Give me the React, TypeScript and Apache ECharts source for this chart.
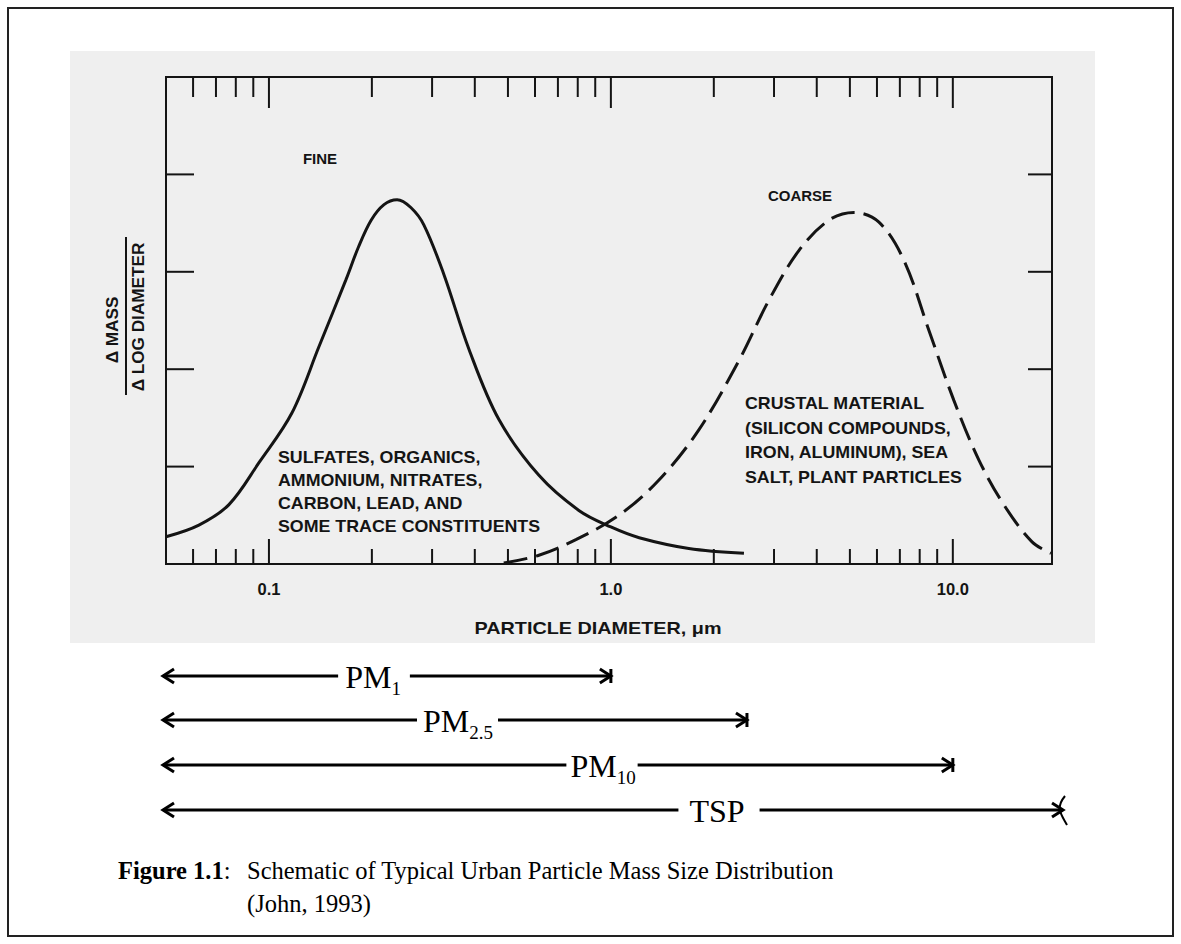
import React, { useEffect, useRef } from 'react';
import * as echarts from 'echarts';

// ---------- data ----------
const FINE_DIAMETER = [0.05, 0.0624, 0.0764, 0.0935, 0.1167, 0.14, 0.168, 0.183, 0.199, 0.217, 0.237, 0.26, 0.284, 0.325, 0.385, 0.471, 0.616, 0.806, 1.0, 1.21, 1.69, 2.45];
const FINE_MASS = [0.28, 0.40, 0.61, 1.04, 1.55, 2.23, 2.92, 3.26, 3.53, 3.69, 3.74, 3.66, 3.48, 2.97, 2.20, 1.48, 0.91, 0.55, 0.38, 0.27, 0.16, 0.11];
const COARSE_DIAMETER = [0.486, 0.616, 0.79, 1.055, 1.38, 1.81, 2.37, 2.9, 3.55, 4.34, 5.14, 6.08, 7.19, 8.51, 10.07, 11.91, 14.09, 17.02, 19.35];
const COARSE_MASS = [0.01, 0.09, 0.25, 0.5, 0.86, 1.38, 2.09, 2.71, 3.22, 3.53, 3.61, 3.51, 3.12, 2.40, 1.68, 1.07, 0.61, 0.23, 0.11];

const X_MIN = 0.05;
const X_MAX = 19.5;
const Y_MIN = 0;
const Y_MAX = 5;
const X_MAJOR_TICKS = [0.1, 1, 10];
const X_MINOR_TICKS = [0.06, 0.07, 0.08, 0.09, 0.2, 0.3, 0.4, 0.5, 0.6, 0.7, 0.8, 0.9, 2, 3, 4, 5, 6, 7, 8, 9];
const X_TICK_LABELS = ['0.1', '1.0', '10.0'];
const Y_TICKS = [1, 2, 3, 4];

const PM_MAIN = ['PM', 'PM', 'PM', 'TSP'];
const PM_SUB = ['1', '2.5', '10', ''];
const PM_END = [1.0, 2.5, 10, 21];

// ---------- styles ----------
const INK = '#141414';
const SANS = '"Liberation Sans", Arial, Helvetica, sans-serif';
const SERIF = '"Liberation Serif", "Times New Roman", serif';
const ROW_Y = [676, 720, 765, 810];
const LABEL_CX = [373, 458, 603, 717];
const GAP_L = [7, 6, 4, 11];
const GAP_R = [9, 5, 2, 15];
const MAIN_SIZE = 32;
const SUB_SIZE = 19;
const CAPTION_SIZE = 24.5;
const NOTE_SIZE = 16.5;
const NOTE_STRETCH = 1.08;

function measure(text: string, font: string): number {
  const ctx = document.createElement('canvas').getContext('2d');
  if (!ctx) return text.length * 12;
  ctx.font = font;
  return ctx.measureText(text).width;
}

function buildOption() {
  const lineStyleInk = { stroke: INK, lineWidth: 2 };
  const figW = measure('Figure 1.1', `bold ${CAPTION_SIZE}px ${SERIF}`);
  return {
    animation: false,
    backgroundColor: '#ffffff',
    grid: {
      left: 166,
      top: 77,
      width: 886,
      height: 487,
      show: true,
      borderColor: INK,
      borderWidth: 2,
      backgroundColor: 'transparent',
      z: 3,
    },
    xAxis: {
      type: 'log',
      logBase: 10,
      min: X_MIN,
      max: X_MAX,
      axisLine: { show: false },
      axisTick: { show: false },
      splitLine: { show: false },
      axisLabel: {
        show: true,
        margin: 16,
        color: INK,
        fontFamily: SANS,
        fontWeight: 'bold',
        fontSize: 16.5,
        showMinLabel: false,
        showMaxLabel: false,
        formatter: (v: number) => {
          for (let i = 0; i < X_MAJOR_TICKS.length; i++) {
            if (Math.abs(v - X_MAJOR_TICKS[i]) / X_MAJOR_TICKS[i] < 1e-6) return X_TICK_LABELS[i];
          }
          return '';
        },
      },
    },
    yAxis: {
      type: 'value',
      min: Y_MIN,
      max: Y_MAX,
      interval: 1,
      axisLine: { show: false },
      axisTick: { show: false },
      axisLabel: { show: false },
      splitLine: { show: false },
    },
    series: [
      {
        name: 'Fine',
        type: 'line',
        data: FINE_DIAMETER.map((d, i) => [d, FINE_MASS[i]]),
        smooth: 0.35,
        showSymbol: false,
        symbol: 'none',
        lineStyle: { color: INK, width: 3 },
        z: 4,
      },
      {
        name: 'Coarse',
        type: 'line',
        data: COARSE_DIAMETER.map((d, i) => [d, COARSE_MASS[i]]),
        smooth: 0.35,
        showSymbol: false,
        symbol: 'none',
        lineStyle: { color: INK, width: 3, type: [24, 9] },
        z: 4,
      },
      {
        name: 'xTicks',
        type: 'custom',
        silent: true,
        clip: false,
        z: 5,
        data: X_MINOR_TICKS.map((v) => [v, 0, 0]).concat(X_MAJOR_TICKS.map((v) => [v, 0, 1])),
        encode: { x: 0, y: 1 },
        renderItem: (params: any, api: any) => {
          const v = api.value(0);
          const major = api.value(2) === 1;
          const b = api.coord([v, Y_MIN]);
          const t = api.coord([v, Y_MAX]);
          const lb = major ? 25 : 15;
          const lt = major ? 31 : 20;
          return {
            type: 'group',
            children: [
              { type: 'line', shape: { x1: b[0], y1: b[1], x2: b[0], y2: b[1] - lb }, style: lineStyleInk },
              { type: 'line', shape: { x1: t[0], y1: t[1], x2: t[0], y2: t[1] + lt }, style: lineStyleInk },
            ],
          };
        },
      },
      {
        name: 'yTicks',
        type: 'custom',
        silent: true,
        clip: false,
        z: 5,
        data: Y_TICKS.map((v) => [X_MIN, v]),
        encode: { x: 0, y: 1 },
        renderItem: (params: any, api: any) => {
          const v = api.value(1);
          const l = api.coord([X_MIN, v]);
          const r = api.coord([X_MAX, v]);
          return {
            type: 'group',
            children: [
              { type: 'line', shape: { x1: l[0], y1: l[1], x2: l[0] + 28, y2: l[1] }, style: lineStyleInk },
              { type: 'line', shape: { x1: r[0], y1: r[1], x2: r[0] - 24, y2: r[1] }, style: lineStyleInk },
            ],
          };
        },
      },
      {
        name: 'ranges',
        type: 'custom',
        silent: true,
        clip: false,
        z: 5,
        data: PM_END.map((v) => [v, 0]),
        encode: { x: 0, y: 1 },
        renderItem: (params: any, api: any) => {
          const i = params.dataIndex;
          const end = api.value(0);
          const y = ROW_Y[i];
          const xL = api.coord([X_MIN, 0])[0] - 3;
          const xR = api.coord([end, 0])[0];
          const main = PM_MAIN[i];
          const sub = PM_SUB[i];
          const wMain = measure(main, `${MAIN_SIZE}px ${SERIF}`);
          const wSub = sub ? measure(sub, `${SUB_SIZE}px ${SERIF}`) : 0;
          const w = wMain + wSub;
          const tx = LABEL_CX[i] - w / 2;
          const st = { stroke: '#000', lineWidth: 3 };
          const children: any[] = [
            { type: 'line', shape: { x1: xL, y1: y, x2: tx - GAP_L[i], y2: y }, style: st },
            { type: 'line', shape: { x1: tx + w + GAP_R[i], y1: y, x2: xR, y2: y }, style: st },
            { type: 'polyline', shape: { points: [[xL + 11, y - 7], [xL, y], [xL + 11, y + 7]] }, style: { ...st, fill: 'none' } },
            { type: 'polyline', shape: { points: [[xR - 11, y - 7], [xR, y], [xR - 11, y + 7]] }, style: { ...st, fill: 'none' } },
            {
              type: 'text',
              x: tx,
              y: y + 1,
              style: { text: main, fill: '#000', fontSize: MAIN_SIZE, fontFamily: SERIF, textAlign: 'left', textVerticalAlign: 'middle' },
            },
          ];
          if (sub) {
            children.push({
              type: 'text',
              x: tx + wMain,
              y: y + 12,
              style: { text: sub, fill: '#000', fontSize: SUB_SIZE, fontFamily: SERIF, textAlign: 'left', textVerticalAlign: 'middle' },
            });
            children.push({ type: 'line', shape: { x1: xR, y1: y - 7, x2: xR, y2: y + 7 }, style: st });
          } else {
            children.push({
              type: 'bezierCurve',
              shape: { x1: xR + 2, y1: y - 14, cpx1: xR - 8, cpy1: y - 2, cpx2: xR - 2, cpy2: y + 4, x2: xR + 4, y2: y + 15 },
              style: { stroke: '#000', lineWidth: 2, fill: 'none' },
            });
          }
          return { type: 'group', children };
        },
      },
    ],
    graphic: [
      { type: 'rect', z: -10, shape: { x: 70, y: 51, width: 1025, height: 592 }, style: { fill: '#efefef' } },
      { type: 'rect', z: 10, shape: { x: 8, y: 8, width: 1165, height: 928 }, style: { fill: 'none', stroke: '#222', lineWidth: 2 } },
      // y-axis label
      {
        type: 'text', z: 10, x: 113, y: 330, rotation: Math.PI / 2, scaleX: 1.04,
        style: { text: 'Δ MASS', fill: INK, fontSize: NOTE_SIZE, fontWeight: 'bold', fontFamily: SANS, textAlign: 'center', textVerticalAlign: 'middle' },
      },
      { type: 'line', z: 10, shape: { x1: 126, y1: 237, x2: 126, y2: 395 }, style: { stroke: INK, lineWidth: 2 } },
      {
        type: 'text', z: 10, x: 139, y: 317, rotation: Math.PI / 2, scaleX: 1.04,
        style: { text: 'Δ LOG DIAMETER', fill: INK, fontSize: NOTE_SIZE, fontWeight: 'bold', fontFamily: SANS, textAlign: 'center', textVerticalAlign: 'middle' },
      },
      // x-axis name
      {
        type: 'text', z: 10, x: 598, y: 629, scaleX: 1.2,
        style: { text: 'PARTICLE DIAMETER, μm', fill: INK, fontSize: NOTE_SIZE, fontWeight: 'bold', fontFamily: SANS, textAlign: 'center', textVerticalAlign: 'middle' },
      },
      // annotations
      {
        type: 'text', z: 10, x: 320, y: 158,
        style: { text: 'FINE', fill: INK, fontSize: 15, fontWeight: 'bold', fontFamily: SANS, textAlign: 'center', textVerticalAlign: 'middle' },
      },
      {
        type: 'text', z: 10, x: 800, y: 195,
        style: { text: 'COARSE', fill: INK, fontSize: 15, fontWeight: 'bold', fontFamily: SANS, textAlign: 'center', textVerticalAlign: 'middle' },
      },
      {
        type: 'text', z: 10, x: 278, y: 446, scaleX: NOTE_STRETCH,
        style: {
          text: 'SULFATES, ORGANICS,\nAMMONIUM, NITRATES,\nCARBON, LEAD, AND\nSOME TRACE CONSTITUENTS',
          fill: INK, fontSize: NOTE_SIZE, fontWeight: 'bold', fontFamily: SANS, lineHeight: 23, textAlign: 'left', textVerticalAlign: 'top',
        },
      },
      {
        type: 'text', z: 10, x: 745, y: 391, scaleX: NOTE_STRETCH,
        style: {
          text: 'CRUSTAL MATERIAL\n(SILICON COMPOUNDS,\nIRON, ALUMINUM), SEA\nSALT, PLANT PARTICLES',
          fill: INK, fontSize: NOTE_SIZE, fontWeight: 'bold', fontFamily: SANS, lineHeight: 24.5, textAlign: 'left', textVerticalAlign: 'top',
        },
      },
      // caption
      {
        type: 'text', z: 10, x: 118, y: 870,
        style: { text: 'Figure 1.1', fill: '#000', fontSize: CAPTION_SIZE, fontWeight: 'bold', fontFamily: SERIF, textAlign: 'left', textVerticalAlign: 'middle' },
      },
      {
        type: 'text', z: 10, x: 118 + figW, y: 870,
        style: { text: ':', fill: '#000', fontSize: CAPTION_SIZE, fontFamily: SERIF, textAlign: 'left', textVerticalAlign: 'middle' },
      },
      {
        type: 'text', z: 10, x: 247, y: 870,
        style: { text: 'Schematic of Typical Urban Particle Mass Size Distribution', fill: '#000', fontSize: CAPTION_SIZE, fontFamily: SERIF, textAlign: 'left', textVerticalAlign: 'middle' },
      },
      {
        type: 'text', z: 10, x: 247, y: 903,
        style: { text: '(John, 1993)', fill: '#000', fontSize: CAPTION_SIZE, fontFamily: SERIF, textAlign: 'left', textVerticalAlign: 'middle' },
      },
    ],
  };
}

export default function App() {
  const ref = useRef<HTMLDivElement>(null);
  useEffect(() => {
    if (!ref.current) return;
    const chart = echarts.init(ref.current, null, { renderer: 'svg' });
    chart.setOption(buildOption() as any);
    return () => chart.dispose();
  }, []);
  return (
    <div
      ref={ref}
      style={{ position: 'fixed', left: 0, top: 0, width: 1181, height: 944, background: '#ffffff' }}
    />
  );
}
